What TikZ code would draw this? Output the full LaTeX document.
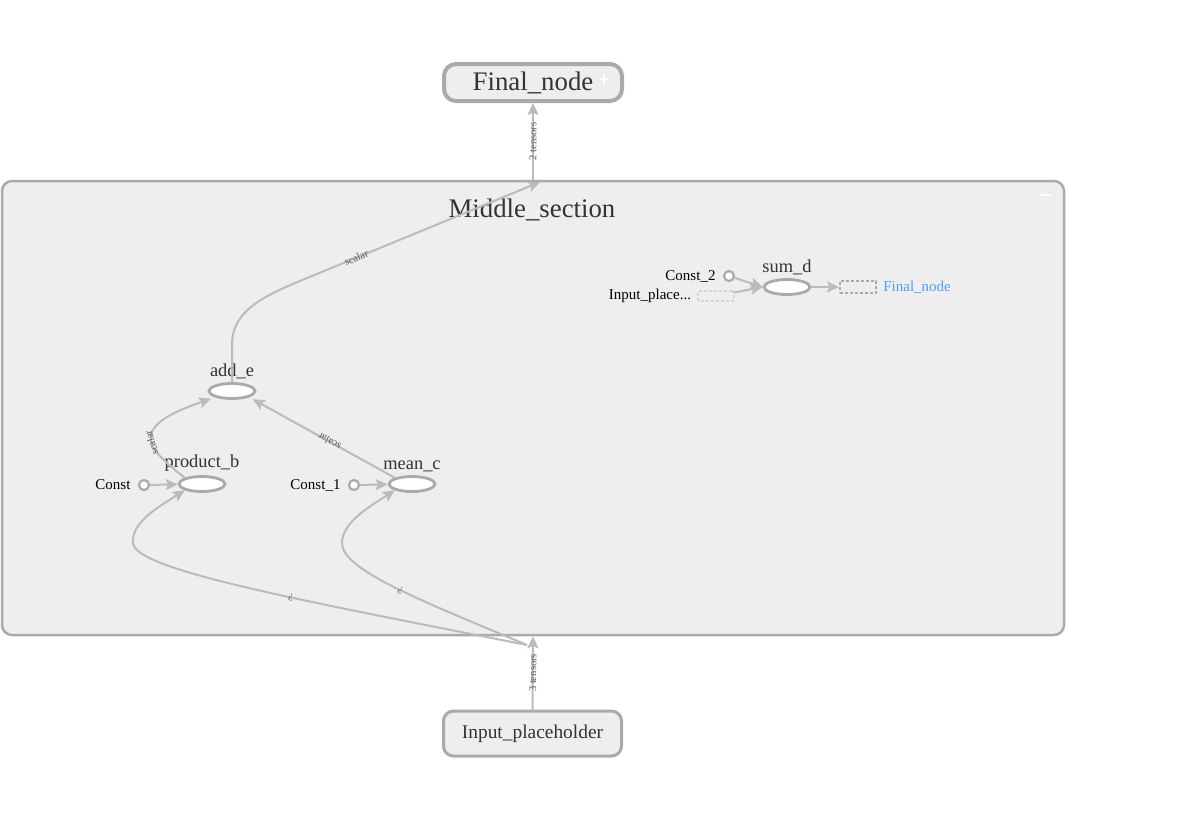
\documentclass[tikz,border=0pt]{standalone}
\usepackage{fontspec}
\setmainfont{Liberation Serif}
\newfontfamily\symfont{DejaVu Sans}
\usetikzlibrary{positioning,shapes.geometric,arrows.meta}

\definecolor{boxFill}{HTML}{EEEEEE}
\definecolor{boxLine}{HTML}{AAAAAA}
\definecolor{edgeGray}{HTML}{BBBBBB}
\definecolor{textGray}{HTML}{333333}
\definecolor{refBlue}{HTML}{4A9FFF}

\tikzset{
  groupbox/.style={draw=boxLine, fill=boxFill, rounded corners=5pt, inner sep=0pt, text=textGray},
  opnode/.style={ellipse, draw=boxLine, fill=white, line width=1.4pt, minimum width=23pt, minimum height=7.5pt, inner sep=0pt},
  constnode/.style={circle, draw=boxLine, fill=white, line width=1.1pt, minimum size=5pt, inner sep=0pt},
  oplabel/.style={text=textGray, font=\fontsize{9.2}{10}\selectfont, inner sep=0.5pt},
  smalllabel/.style={text=black, font=\fontsize{7.5}{9}\selectfont, inner sep=0.5pt},
  edge/.style={draw=edgeGray, line width=1pt, -{Stealth[length=6pt,width=5.5pt,inset=1.2pt]}},
  edgelabel/.style={text=black!65, font=\fontsize{5.3}{6}\selectfont, inner sep=0.3pt, sloped, allow upside down},
}

\begin{document}
\begin{tikzpicture}[x=0.5pt, y=-0.5pt]
\useasboundingbox (0,0) rectangle (1185,816);

% groups
\node[groupbox, line width=1.25pt, minimum width=531pt, minimum height=227pt] (middle) at (533,408) {};
\node[text=textGray, font=\fontsize{13.4}{15}\selectfont] (middletitle) at (532,210) {Middle\_section};
\node[text=white, font=\symfont\fontsize{8}{9}\selectfont\bfseries, inner sep=0pt] (collapse) at (1046,198) {−};

\node[groupbox, line width=2pt, rounded corners=6pt, minimum width=89pt, minimum height=18.5pt, font=\fontsize{13.4}{15}\selectfont] (final) at (533,82.5) {Final\_node};
\node[text=white, font=\symfont\fontsize{8}{9}\selectfont\bfseries, inner sep=0pt] (expand) at (604,79) {+};

\node[groupbox, line width=1.5pt, minimum width=89pt, minimum height=22.5pt, font=\fontsize{9.7}{11}\selectfont] (input) at (532.5,733.5) {Input\_placeholder};

% ops
\node[opnode] (adde) at (232,391) {};
\node[oplabel, above=1pt of adde] (addelabel) {add\_e};
\node[opnode] (prodb) at (202,484) {};
\node[oplabel, above=1pt of prodb] (prodblabel) {product\_b};
\node[opnode] (meanc) at (412,484) {};
\node[oplabel, above=1pt of meanc] (meanclabel) {mean\_c};
\node[opnode] (sumd) at (787,287) {};
\node[oplabel, above=1pt of sumd] (sumdlabel) {sum\_d};

% constants
\node[constnode] (const) at (144,485) {};
\node[smalllabel, left=3pt of const] (constlabel) {Const};
\node[constnode] (const1) at (354,485) {};
\node[smalllabel, left=3pt of const1] (const1label) {Const\_1};
\node[constnode] (const2) at (729,276) {};
\node[smalllabel, left=3pt of const2] (const2label) {Const\_2};

% references
\node[draw=black!22, dash pattern=on 1.5pt off 1pt, line width=0.6pt, minimum width=18pt, minimum height=5pt, inner sep=0pt, rounded corners=1pt] (inputref) at (716,296) {};
\node[smalllabel, left=2.5pt of inputref] (inputreflabel) {Input\_place...};
\node[draw=boxLine, dash pattern=on 1.5pt off 1pt, line width=1pt, minimum width=18pt, minimum height=6pt, inner sep=0pt] (finalref) at (858,287) {};
\node[smalllabel, text=refBlue, right=2.5pt of finalref] (finalreflabel) {Final\_node};

\coordinate (inlet) at (527,645);
\coordinate (outlet) at (540,182);

% edges between groups
\draw[edge] (input.north) -- node[edgelabel] {3 tensors} (middle.south);
\draw[edge] (middle.north) -- node[edgelabel] {2 tensors} (final.south);

% edges inside
\draw[edge] (adde.north) -- (232,345) .. controls (232,315) and (255,300) .. (295,283) -- node[edgelabel, pos=0.25] {scalar} (outlet);
\draw[edge, shorten >=2pt] (prodb.north west) .. controls (165,462) and (148,448) .. node[edgelabel, pos=0.8] {scalar} (151,435) .. controls (155,418) and (185,408) .. (adde.south west);
\draw[edge, shorten >=2pt] (meanc.north west) -- node[edgelabel, pos=0.45] {scalar} (adde.south east);
\draw[edge] (inlet) .. controls (300,600) and (135,570) .. node[edgelabel, pos=0.4] {?} (133,543) .. controls (131,522) and (160,506) .. (prodb.south west);
\draw[edge] (inlet) .. controls (420,600) and (342,570) .. node[edgelabel, pos=0.47] {?} (342,543) .. controls (342,522) and (372,505) .. (meanc.south west);
\draw[edge] (const) -- (prodb);
\draw[edge] (const1) -- (meanc);
\draw[edge] (const2) -- (sumd.west);
\draw[edge] (inputref) -- (sumd.west);
\draw[edge] (sumd) -- (finalref);

\end{tikzpicture}
\end{document}
